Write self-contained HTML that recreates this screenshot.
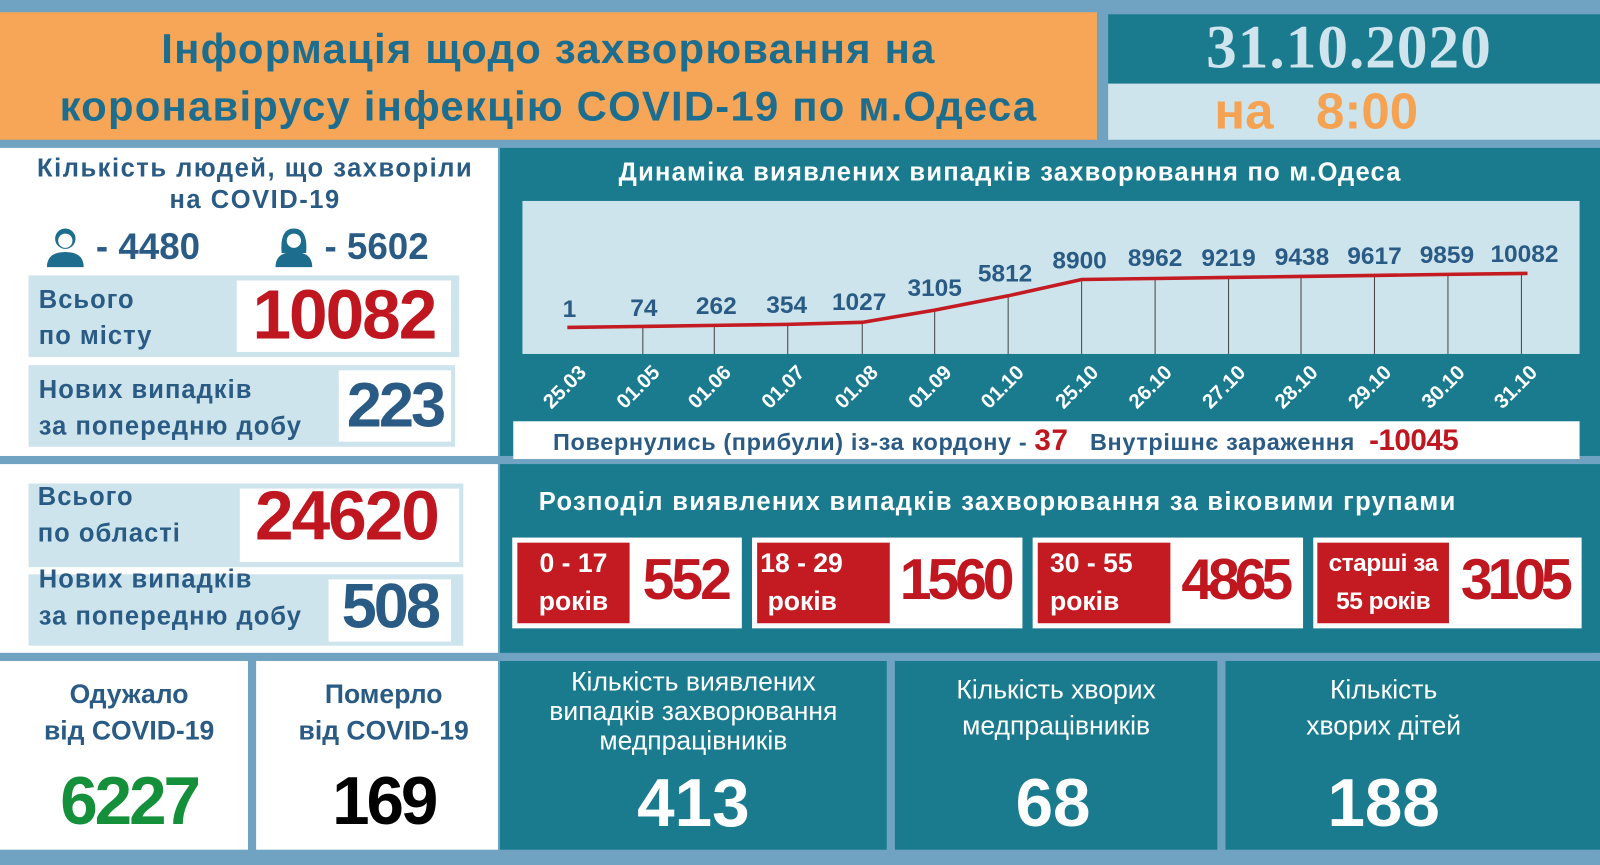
<!DOCTYPE html>
<html><head><meta charset="utf-8"><style>
*{margin:0;padding:0;box-sizing:border-box}
html,body{width:1600px;height:865px;overflow:hidden;background:#6fa3c1}
#w{position:absolute;left:0;top:0;width:1568px;height:848px;transform-origin:0 0;transform:scale(1.0204,1.02005);font-family:"Liberation Sans","DejaVu Sans",sans-serif;font-weight:bold}
.a{position:absolute}
.c{text-align:center}
.blue{color:#2a5b85}
.teal{background:#1a7b8f}
.lb{background:#cde4ec}
.w{background:#fff}
.red{color:#c0161f}
</style></head><body><div id="w">
<!-- header -->
<div class="a" style="left:0;top:12px;width:1075px;height:125px;background:#f6a656"></div>
<div class="a c" style="left:0;top:20px;width:1075px;font-size:41px;line-height:56px;color:#1d6e8e;letter-spacing:1.2px">Інформація щодо захворювання на<br>коронавірусу інфекцію COVID-19 по м.Одеса</div>
<div class="a teal" style="left:1086px;top:14px;width:482px;height:68px"></div>
<div class="a c" style="left:1086px;top:12px;width:472px;font-family:'Liberation Serif',serif;font-weight:bold;font-size:60px;line-height:68px;color:#cfe4ec;letter-spacing:1px">31.10.2020</div>
<div class="a lb" style="left:1086px;top:82px;width:482px;height:55px"></div>
<div class="a" style="left:1190px;top:80px;font-size:50px;line-height:58px;color:#f5a352;white-space:nowrap">на&nbsp;&nbsp;&nbsp;8:00</div>

<!-- left panel 1 -->
<div class="a w" style="left:0;top:145px;width:488px;height:302px"></div>
<div class="a c blue" style="left:0;top:150px;width:500px;font-size:25px;line-height:31px;letter-spacing:1.5px">Кількість людей, що захворіли<br>на COVID-19</div>
<svg class="a" style="left:44px;top:222px" width="40" height="40" viewBox="0 0 40 40"><circle cx="20" cy="12" r="10" fill="#1d6e8e"/><circle cx="20" cy="14" r="7" fill="#fff"/><path d="M2 40 Q2 25 20 25 Q38 25 38 40Z" fill="#1d6e8e"/></svg>
<div class="a blue" style="left:94px;top:220px;font-size:36px;line-height:44px">- 4480</div>
<svg class="a" style="left:268px;top:222px" width="40" height="40" viewBox="0 0 40 40"><path d="M8 26 Q6 2 20 2 Q34 2 32 26Z" fill="#1d6e8e"/><circle cx="20" cy="14" r="7" fill="#fff"/><path d="M2 40 Q2 25 20 25 Q38 25 38 40Z" fill="#1d6e8e"/></svg>
<div class="a blue" style="left:318px;top:220px;font-size:36px;line-height:44px">- 5602</div>
<div class="a lb" style="left:28px;top:270px;width:422px;height:80px"></div>
<div class="a w" style="left:232px;top:275px;width:210px;height:70px"></div>
<div class="a blue" style="left:38px;top:277px;font-size:25px;line-height:35px;letter-spacing:1px">Всього<br>по місту</div>
<div class="a c red" style="left:232px;top:272px;width:210px;font-size:68px;line-height:74px;letter-spacing:-2px">10082</div>
<div class="a lb" style="left:28px;top:358px;width:418px;height:80px"></div>
<div class="a w" style="left:332px;top:363px;width:110px;height:70px"></div>
<div class="a blue" style="left:38px;top:364px;font-size:25px;line-height:36px;letter-spacing:1px">Нових випадків<br>за попередню добу</div>
<div class="a c blue" style="left:332px;top:362px;width:110px;font-size:62px;line-height:72px;letter-spacing:-3px">223</div>

<!-- left panel 2 -->
<div class="a w" style="left:0;top:455px;width:488px;height:185px"></div>
<div class="a lb" style="left:28px;top:474px;width:426px;height:82px"></div>
<div class="a w" style="left:235px;top:479px;width:215px;height:72px"></div>
<div class="a blue" style="left:37px;top:469px;font-size:25px;line-height:36px;letter-spacing:1px">Всього<br>по області</div>
<div class="a c red" style="left:232px;top:468px;width:215px;font-size:68px;line-height:76px;letter-spacing:-2px">24620</div>
<div class="a lb" style="left:28px;top:563px;width:426px;height:70px"></div>
<div class="a w" style="left:322px;top:568px;width:120px;height:61px"></div>
<div class="a blue" style="left:38px;top:550px;font-size:25px;line-height:36px;letter-spacing:1px">Нових випадків<br>за попередню добу</div>
<div class="a c blue" style="left:322px;top:561px;width:120px;font-size:62px;line-height:68px;letter-spacing:-3px">508</div>

<!-- right top panel -->
<div class="a teal" style="left:490px;top:145px;width:1078px;height:302px"></div>
<div class="a c" style="left:490px;top:152px;width:1000px;font-size:25px;line-height:34px;color:#fff;letter-spacing:1.2px">Динаміка виявлених випадків захворювання по м.Одеса</div>
<div class="a lb" style="left:512px;top:197px;width:1036px;height:150px"></div>
<svg class="a" style="left:0;top:0" width="1568" height="848">
<g stroke="#444" stroke-width="1">
<line x1="630" y1="320" x2="630" y2="347"/><line x1="700" y1="319" x2="700" y2="347"/><line x1="772" y1="318" x2="772" y2="347"/><line x1="845" y1="316" x2="845" y2="347"/><line x1="916" y1="304" x2="916" y2="347"/><line x1="988" y1="290" x2="988" y2="347"/><line x1="1060" y1="274" x2="1060" y2="347"/><line x1="1132" y1="273" x2="1132" y2="347"/><line x1="1204" y1="272" x2="1204" y2="347"/><line x1="1275" y1="271" x2="1275" y2="347"/><line x1="1347" y1="270" x2="1347" y2="347"/><line x1="1419" y1="269" x2="1419" y2="347"/><line x1="1491" y1="268" x2="1491" y2="347"/>
</g>
<polyline points="556,321 630,320 700,319 772,318 845,316 916,304 988,290 1060,274 1132,273 1204,272 1275,271 1347,270 1419,269 1497,268" fill="none" stroke="#c41a22" stroke-width="3.5"/>
<g font-family="Liberation Sans,sans-serif" font-weight="bold" font-size="24" fill="#2a5b85" text-anchor="middle">
<text x="558" y="311">1</text><text x="631" y="310">74</text><text x="702" y="308">262</text><text x="771" y="307">354</text><text x="842" y="304">1027</text><text x="916" y="290">3105</text><text x="985" y="276">5812</text><text x="1058" y="263">8900</text><text x="1132" y="261">8962</text><text x="1204" y="261">9219</text><text x="1276" y="260">9438</text><text x="1347" y="259">9617</text><text x="1418" y="258">9859</text><text x="1494" y="257">10082</text>
</g>
<g font-family="Liberation Sans,sans-serif" font-weight="bold" font-size="20" fill="#fff" text-anchor="middle">
<text transform="translate(558,384) rotate(-45)">25.03</text><text transform="translate(630,384) rotate(-45)">01.05</text><text transform="translate(700,384) rotate(-45)">01.06</text><text transform="translate(772,384) rotate(-45)">01.07</text><text transform="translate(844,384) rotate(-45)">01.08</text><text transform="translate(916,384) rotate(-45)">01.09</text><text transform="translate(987,384) rotate(-45)">01.10</text><text transform="translate(1060,384) rotate(-45)">25.10</text><text transform="translate(1132,384) rotate(-45)">26.10</text><text transform="translate(1204,384) rotate(-45)">27.10</text><text transform="translate(1275,384) rotate(-45)">28.10</text><text transform="translate(1347,384) rotate(-45)">29.10</text><text transform="translate(1419,384) rotate(-45)">30.10</text><text transform="translate(1490,384) rotate(-45)">31.10</text>
</g>
</svg>
<div class="a w" style="left:503px;top:413px;width:1045px;height:37px"></div>
<div class="a blue" style="left:542px;top:414px;font-size:23px;line-height:36px;white-space:nowrap;letter-spacing:0.6px">Повернулись (прибули) із-за кордону - <span class="red" style="font-size:29px">37</span>&nbsp;&nbsp;&nbsp;Внутрішнє зараження &nbsp;<span class="red" style="font-size:29px;letter-spacing:-0.5px">-10045</span></div>

<!-- age groups -->
<div class="a teal" style="left:490px;top:455px;width:1078px;height:185px"></div>
<div class="a" style="left:528px;top:474px;font-size:25px;line-height:36px;color:#fff;white-space:nowrap;letter-spacing:1.3px">Розподіл виявлених випадків захворювання за віковими групами</div>
<div class="a w" style="left:502px;top:527px;width:225px;height:89px"></div>
<div class="a" style="left:507px;top:532px;width:110px;height:79px;background:#c41a22"></div>
<div class="a c" style="left:507px;top:534px;width:110px;font-size:26px;line-height:37px;color:#fff">0 - 17<br>років</div>
<div class="a c red" style="left:617px;top:532px;width:110px;font-size:56px;line-height:72px;letter-spacing:-3px">552</div>
<div class="a w" style="left:737px;top:527px;width:265px;height:89px"></div>
<div class="a" style="left:742px;top:532px;width:130px;height:79px;background:#c41a22"></div>
<div class="a" style="left:745px;top:534px;font-size:26px;line-height:37px;color:#fff">18 - 29<br>&nbsp;років</div>
<div class="a c red" style="left:872px;top:532px;width:128px;font-size:56px;line-height:72px;letter-spacing:-4px">1560</div>
<div class="a w" style="left:1012px;top:527px;width:265px;height:89px"></div>
<div class="a" style="left:1017px;top:532px;width:130px;height:79px;background:#c41a22"></div>
<div class="a" style="left:1029px;top:534px;font-size:26px;line-height:37px;color:#fff">30 - 55<br>років</div>
<div class="a c red" style="left:1145px;top:532px;width:130px;font-size:56px;line-height:72px;letter-spacing:-5px">4865</div>
<div class="a w" style="left:1287px;top:527px;width:263px;height:89px"></div>
<div class="a" style="left:1291px;top:532px;width:129px;height:79px;background:#c41a22"></div>
<div class="a c" style="left:1291px;top:534px;width:129px;font-size:24px;line-height:37px;color:#fff;letter-spacing:-0.5px">старші за<br>55 років</div>
<div class="a c red" style="left:1420px;top:532px;width:128px;font-size:56px;line-height:72px;letter-spacing:-5px">3105</div>

<!-- bottom -->
<div class="a w" style="left:0;top:648px;width:243px;height:185px"></div>
<div class="a w" style="left:251px;top:648px;width:237px;height:185px"></div>
<div class="a c blue" style="left:0;top:662px;width:253px;font-size:26px;line-height:36px">Одужало<br>від COVID-19</div>
<div class="a c" style="left:0;top:744px;width:253px;font-size:66px;line-height:82px;color:#148f3a;letter-spacing:-3px">6227</div>
<div class="a c blue" style="left:251px;top:662px;width:250px;font-size:26px;line-height:36px">Померло<br>від COVID-19</div>
<div class="a c" style="left:251px;top:744px;width:250px;font-size:66px;line-height:82px;color:#000;letter-spacing:-3px">169</div>
<div class="a teal" style="left:490px;top:648px;width:379px;height:185px"></div>
<div class="a teal" style="left:877px;top:648px;width:316px;height:185px"></div>
<div class="a teal" style="left:1201px;top:648px;width:367px;height:185px"></div>
<div class="a c" style="left:490px;top:654px;width:379px;font-size:26px;line-height:29px;color:#fff;font-weight:normal">Кількість виявлених<br>випадків захворювання<br>медпрацівників</div>
<div class="a c" style="left:490px;top:746px;width:379px;font-size:66px;line-height:82px;color:#fff">413</div>
<div class="a c" style="left:877px;top:659px;width:316px;font-size:26px;line-height:35px;color:#fff;font-weight:normal">Кількість хворих<br>медпрацівників</div>
<div class="a c" style="left:877px;top:746px;width:310px;font-size:66px;line-height:82px;color:#fff">68</div>
<div class="a c" style="left:1201px;top:659px;width:310px;font-size:26px;line-height:35px;color:#fff;font-weight:normal">Кількість<br>хворих дітей</div>
<div class="a c" style="left:1201px;top:746px;width:310px;font-size:66px;line-height:82px;color:#fff">188</div>
</div></body></html>
